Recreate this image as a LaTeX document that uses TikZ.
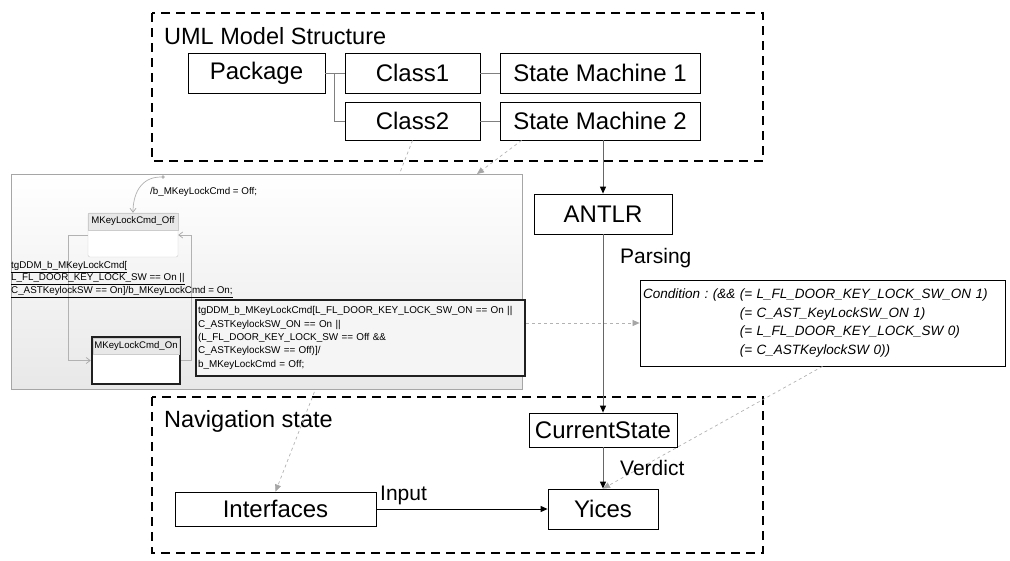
\documentclass[tikz,border=0pt]{standalone}
\usepackage{fontspec}
\setmainfont{Liberation Sans}
\usetikzlibrary{arrows.meta,calc}
\frenchspacing

\tikzset{
  box/.style={draw, line width=0.8pt, fill=white, inner sep=0pt, font=\fontsize{24}{28}\selectfont},
  frame/.style={draw, line width=2pt, dash pattern=on 9pt off 6pt},
  link/.style={draw=gray, line width=0.8pt},
  flow/.style={draw=gray!80!black, line width=1pt, -{Triangle[black,length=7pt,width=6pt]}},
  trace/.style={draw=gray!60, dashed, line width=0.7pt, -{Triangle[gray!70,length=7pt,width=6pt]}},
  trans/.style={draw=gray!60, line width=0.7pt, -{Straight Barb[gray!70,length=4pt,width=6pt]}},
  tag/.style={font=\fontsize{21}{24}\selectfont, anchor=west, inner sep=0pt},
  small/.style={font=\fontsize{9.8}{12.5}\selectfont, inner sep=0pt, align=left},
  sthead/.style={fill=gray!18, draw=gray!40, inner sep=0pt, font=\fontsize{9.6}{11}\selectfont},
}

\begin{document}
\begin{tikzpicture}[x=1pt,y=-1pt]
\useasboundingbox (0,0) rectangle (1010,560);

% the two dashed frames
\draw[frame] (152,13) rectangle (763,161);
\draw[frame] (152,397) rectangle (763,553);
\node[tag, font=\fontsize{23.5}{26}\selectfont] (umltitle) at (164,36) {UML Model Structure};
\node[tag, font=\fontsize{23.5}{26}\selectfont] (navtitle) at (164,421) {Navigation state};

% model structure
\node[box, minimum width=137pt, minimum height=40pt] (pkg) at (256.5,73) {Package};
\node[box, minimum width=135pt, minimum height=40pt] (c1) at (412.5,73) {Class1};
\node[box, minimum width=200pt, minimum height=40pt] (sm1) at (600,73) {State Machine 1};
\node[box, minimum width=135pt, minimum height=38pt] (c2) at (412.5,121) {Class2};
\node[box, minimum width=200pt, minimum height=38pt] (sm2) at (600,121) {State Machine 2};
\coordinate (fork) at ($(pkg.east)!.45!(c1.west)$);
\draw[link] (pkg.east) -- (c1.west);
\draw[link] (fork) |- (c2.west);
\draw[link] (c1) -- (sm1);
\draw[link] (c2) -- (sm2);

% tool chain
\node[box, minimum width=138pt, minimum height=40pt] (antlr) at (603,214) {ANTLR};
\node[box, minimum width=148pt, minimum height=34pt] (cur) at (603,430) {CurrentState};
\node[box, minimum width=110pt, minimum height=40pt] (yices) at (603,509) {Yices};
\node[box, minimum width=201pt, minimum height=34pt] (ifc) at (275.5,509) {Interfaces};
\node[box, minimum width=365pt, minimum height=86pt, text width=359pt, inner sep=3pt, align=left,
  font=\fontsize{13.5}{18.5}\itshape] (cond) at (822.5,323)
  {Condition : (\&\& (= L\_FL\_DOOR\_KEY\_LOCK\_SW\_ON 1)\\
   \phantom{Condition : (\&\& }(= C\_AST\_KeyLockSW\_ON 1)\\
   \phantom{Condition : (\&\& }(= L\_FL\_DOOR\_KEY\_LOCK\_SW 0)\\
   \phantom{Condition : (\&\& }(= C\_ASTKeylockSW 0))};

% traces behind the state machine picture
\coordinate (shotin) at (477,174);
\draw[trace] (c2.south) -- (ifc.north);
\draw[trace] ([xshift=22pt]sm2.south west) -- (shotin);

% state machine picture
\node[draw=gray!70, line width=0.8pt, top color=white, bottom color=gray!18,
  minimum width=511pt, minimum height=215pt, inner sep=0pt] (shot) at (266.5,281.5) {};
\node[draw=gray!40, fill=white, rounded corners=2pt, minimum width=90pt, minimum height=44pt, inner sep=0pt] (off) at (133,235) {};
\node[sthead, minimum width=90pt, minimum height=17pt] (offhd) at (133,221.5) {MKeyLockCmd\_Off};
\node[draw=gray!25!black, line width=2.5pt, fill=white, minimum width=88pt, minimum height=47pt, inner sep=0pt] (on) at (136,360.5) {};
\node[sthead, minimum width=86pt, minimum height=16pt] (onhd) at (136,346) {MKeyLockCmd\_On};
\node[circle, fill=gray!60, inner sep=1.3pt] (init) at (163,177) {};
\draw[trans] (init) .. controls (140,177) and (133,195) .. (off.north);
\draw[trans] (off.west) -- ++(-19,0) |- (on.west);
\draw[trans] (on.east) -- ++(10,0) |- (off.east);
\node[small, anchor=west] (entry) at (150,192) {/b\_MKeyLockCmd = Off;};
\node[small, anchor=north west] (guard) at (11,261)
  {\underline{tgDDM\_b\_MKeyLockCmd[}\\
   \underline{L\_FL\_DOOR\_KEY\_LOCK\_SW == On ||}\\
   \underline{C\_ASTKeylockSW == On]/b\_MKeyLockCmd = On;}};
\node[draw=gray!25!black, line width=2.2pt, fill=gray!8, minimum width=329pt, minimum height=76pt,
  text width=325pt, inner sep=2pt, align=left, font=\fontsize{9.9}{13.3}\selectfont] (note) at (360.5,338)
  {tgDDM\_b\_MKeyLockCmd[L\_FL\_DOOR\_KEY\_LOCK\_SW\_ON == On ||\\
   C\_ASTKeylockSW\_ON == On ||\\
   (L\_FL\_DOOR\_KEY\_LOCK\_SW == Off \&\&\\
   C\_ASTKeylockSW == Off)]/\\
   b\_MKeyLockCmd = Off;};

% connectors
\draw[trace] (note.east |- cond.west) -- (cond.west);
\draw[flow] (antlr.north |- sm2.south) -- (antlr.north);
\draw[flow] (antlr.south) -- (cur.north);
\draw[flow] (cur.south) -- (yices.north);
\draw[trace] (cond.south) -- (yices.north);
\draw[flow, draw=black] (ifc.east) -- (yices.west);
\node[tag] (parsing) at (620,258) {Parsing};
\node[tag] (verdict) at (620,468) {Verdict};
\node[tag] (input) at (380,495) {Input};
\end{tikzpicture}
\end{document}
